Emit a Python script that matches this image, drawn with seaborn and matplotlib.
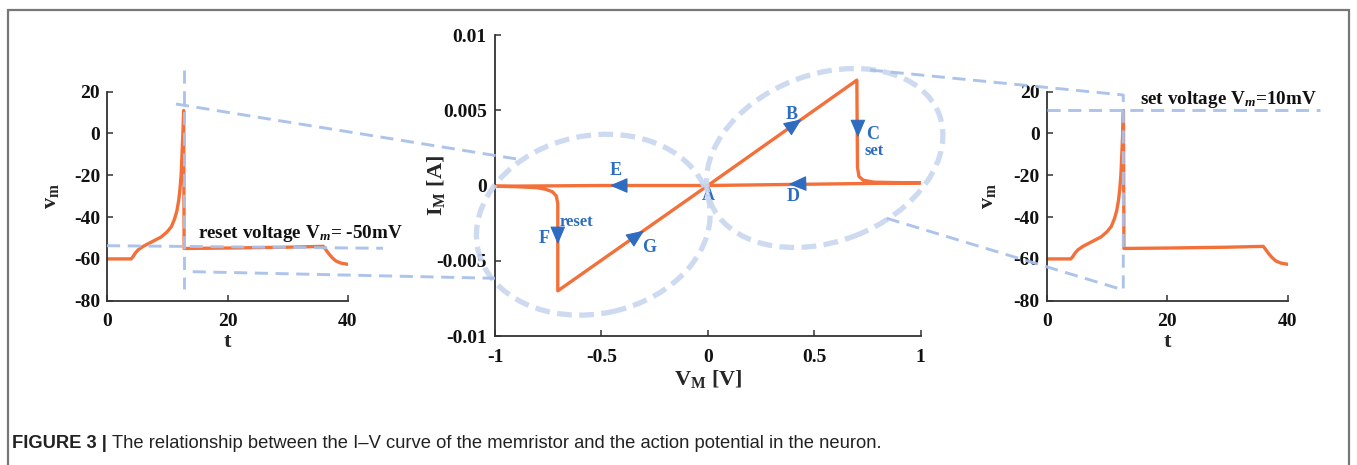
import matplotlib
matplotlib.use('Agg')
import matplotlib.pyplot as plt
import seaborn as sns
import numpy as np
import pandas as pd
from matplotlib.patches import Ellipse, Rectangle
from matplotlib.lines import Line2D
from matplotlib.ticker import FixedLocator, FixedFormatter

# ---------------- data ----------------
# neuron membrane trace (same trace used in both side panels)
trace_t = [0, 4.0, 4.3, 4.7, 5.2, 6.0, 7.0, 8.0, 9.0, 10.0, 10.7, 11.2, 11.6, 11.9,
           12.1, 12.3, 12.45, 12.6, 12.72, 12.8, 20, 30, 35.9, 36.3, 36.8, 37.4,
           38.0, 38.8, 40]
trace_v = [-60, -60, -59, -57.2, -55.6, -54, -52.5, -51, -49.5, -47, -44.5, -41,
           -37, -32, -27, -20, -10, 0, 11, -55, -54.8, -54.4, -54, -55.5, -57.5,
           -59.5, -61, -62, -62.6]
side_xticks = [0, 20, 40]
side_yticks = [-80, -60, -40, -20, 0, 20]

# memristor I-V loop (A -> B -> C -> D -> A -> E -> F -> G -> A)
iv_v = [0, 0.70, 0.703, 0.71, 0.73, 0.78, 0.90, 1.00, 0.50, 0.0, -0.50, -1.00,
        -0.90, -0.80, -0.76, -0.73, -0.712, -0.705, -0.705, 0.0]
iv_i = [0, 0.0070, 0.0012, 0.0006, 0.00035, 0.00022, 0.00019, 0.00018, 0.00009,
        0.0, 0.0, -0.00005, -0.00008, -0.00015, -0.00026, -0.00042, -0.0007,
        -0.0012, -0.0070, 0.0]
mid_xticks = [-1, -0.5, 0, 0.5, 1]
mid_xticklabels = ['-1', '-0.5', '0', '0.5', '1']
mid_yticks = [-0.01, -0.005, 0, 0.005, 0.01]
mid_yticklabels = ['-0.01', '-0.005', '0', '0.005', '0.01']

# direction arrows: (tail_v, tail_i, head_v, head_i)
arrows = {
    'B': (0.40, 0.0040, 0.44, 0.0044),
    'C': (0.705, 0.0042, 0.705, 0.0032),
    'D': (0.42, 0.00011, 0.38, 0.00009),
    'E': (-0.42, 0.0, -0.46, 0.0),
    'F': (-0.705, -0.0028, -0.705, -0.0039),
    'G': (-0.34, -0.0034, -0.30, -0.0030),
}
point_labels = ['B', 'C', 'set', 'D', 'E', 'A', 'reset', 'F', 'G']
point_label_v = [0.393, 0.772, 0.78, 0.40, -0.433, 0.0, -0.616, -0.77, -0.275]
point_label_i = [0.00474, 0.00341, 0.00226, -0.00073, 0.00098, -0.00066, -0.0024, -0.0035, -0.0041]

# ---------------- style ----------------
sns.set_style('ticks')
plt.rcParams['font.family'] = ['Liberation Serif', 'DejaVu Serif']
plt.rcParams['font.weight'] = 'bold'
plt.rcParams['axes.unicode_minus'] = False
plt.rcParams['mathtext.fontset'] = 'custom'
plt.rcParams['mathtext.rm'] = 'Liberation Serif:bold'
plt.rcParams['mathtext.bf'] = 'Liberation Serif:bold'
plt.rcParams['mathtext.it'] = 'Liberation Serif:bold:italic'

ORANGE = '#f4703a'
BLUE = '#2d6cc0'
DASH = '#a9c1e9'
ELL = '#c9d7ef'
AXC = '#333333'

W, H = 1357, 465
fig = plt.figure(figsize=(W / 100, H / 100), dpi=100)


def ax_at(x0, y_top, x1, y_bot):
    return fig.add_axes([x0 / W, 1 - y_bot / H, (x1 - x0) / W, (y_bot - y_top) / H])


def style_axes(ax):
    sns.despine(ax=ax)
    for s in ('left', 'bottom'):
        ax.spines[s].set_color(AXC)
        ax.spines[s].set_linewidth(1.3)
    ax.tick_params(direction='in', length=4, width=1.1, colors=AXC,
                   labelcolor='#111111', labelsize=14)
    for lab in ax.get_xticklabels() + ax.get_yticklabels():
        lab.set_fontweight('bold')


df_trace = pd.DataFrame({'t': trace_t, 'v': trace_v})
df_iv = pd.DataFrame({'V': iv_v, 'I': iv_i})

# ---------- side panels ----------
side_specs = [(107, 91.7, 348, 300.7), (1046.7, 91.7, 1288, 300.7)]
side_axes = []
for spec in side_specs:
    ax = ax_at(*spec)
    sns.lineplot(data=df_trace, x='t', y='v', sort=False, estimator=None,
                 color=ORANGE, lw=2.4, ax=ax)
    ax.set_xlim(0, 40)
    ax.set_ylim(-80, 20)
    ax.xaxis.set_major_locator(FixedLocator(side_xticks))
    ax.yaxis.set_major_locator(FixedLocator(side_yticks))
    ax.tick_params(axis='x', pad=9)
    ax.tick_params(axis='y', pad=5)
    ax.set_xlabel('t', fontsize=16, fontweight='bold')
    ax.set_ylabel(r'v$_{\mathbf{m}}$', fontsize=16, fontweight='bold')
    style_axes(ax)
    side_axes.append(ax)

side_axes[0].yaxis.set_label_coords(-0.19, 0.5)
side_axes[0].xaxis.set_label_coords(0.5, -0.15)
side_axes[1].yaxis.set_label_coords(-0.20, 0.5)
side_axes[1].xaxis.set_label_coords(0.5, -0.15)

side_axes[0].text(15.1, -47.8, r'reset voltage V$_{\mathit{m}}$= -50mV', fontsize=13.8,
                  fontweight='bold', ha='left', va='center', color='#111111')
side_axes[1].text(15.5, 16.5, r'set voltage V$_{\mathit{m}}$=10mV', fontsize=13.8,
                  fontweight='bold', ha='left', va='center', color='#111111')

# ---------- middle panel ----------
axm = ax_at(495, 35, 920.7, 336)
sns.lineplot(data=df_iv, x='V', y='I', sort=False, estimator=None,
             color=ORANGE, lw=2.4, ax=axm)
axm.set_xlim(-1, 1)
axm.set_ylim(-0.01, 0.01)
axm.xaxis.set_major_locator(FixedLocator(mid_xticks))
axm.xaxis.set_major_formatter(FixedFormatter(mid_xticklabels))
axm.yaxis.set_major_locator(FixedLocator(mid_yticks))
axm.yaxis.set_major_formatter(FixedFormatter(mid_yticklabels))
axm.tick_params(axis='x', pad=9)
axm.tick_params(axis='y', pad=6)
axm.set_xlabel(r'V$_{\mathbf{M}}$ [V]', fontsize=16, fontweight='bold')
axm.set_ylabel(r'I$_{\mathbf{M}}$ [A]', fontsize=16, fontweight='bold')
style_axes(axm)
axm.yaxis.set_label_coords(-0.112, 0.5)
axm.xaxis.set_label_coords(0.5, -0.105)

for name, (tv, ti, hv, hi) in arrows.items():
    axm.annotate('', xy=(hv, hi), xytext=(tv, ti),
                 arrowprops=dict(arrowstyle='-|>,head_length=0.75,head_width=0.32',
                                 color=BLUE, lw=0.8, shrinkA=0, shrinkB=0,
                                 mutation_scale=15), zorder=5)
for lab, v, i in zip(point_labels, point_label_v, point_label_i):
    axm.text(v, i, lab, color=BLUE, fontsize=13 if len(lab) == 1 else 12,
             fontweight='bold', ha='center', va='center', zorder=6)

# ---------- overlay decorations (pixel coordinates) ----------
tr = fig.dpi_scale_trans


def P(x, y):
    return x / 100, (H - y) / 100


def dline(pts, color=DASH, lw=2.1, dashes=(4.5, 2.6)):
    xs = [P(*p)[0] for p in pts]
    ys = [P(*p)[1] for p in pts]
    ln = Line2D(xs, ys, transform=tr, color=color, lw=lw, linestyle=(0, dashes),
                alpha=0.95, zorder=10, solid_capstyle='butt', dash_capstyle='butt')
    fig.add_artist(ln)


# ellipses around set / reset regions
for cx, cy, w, h, ang in [(824.7, 158, 245, 167, 21), (593.3, 224.7, 236, 178, 12)]:
    e = Ellipse(P(cx, cy), w / 100, h / 100, angle=ang, transform=tr, fill=False,
                edgecolor=ELL, lw=3.8, linestyle=(0, (2.8, 1.4)), alpha=0.92, zorder=9)
    fig.add_artist(e)

# left panel guides
dline([(184.3, 70), (184.3, 289.3)])
dline([(107, 245.7), (383, 248.3)])
dline([(176, 104), (523, 160)])
dline([(192.7, 271.7), (495, 278.3)])
# right panel guides
dline([(870, 70), (1123.3, 95), (1123.3, 290)])
dline([(886.7, 218.3), (1123.3, 290)])
dline([(1047, 110), (1320, 110)])

# frame
frame = Rectangle(P(7.5, 475), (1349 - 7.5) / 100, (475 - 9.5) / 100, transform=tr,
                  fill=False, edgecolor='#777777', lw=1.6, zorder=1)
fig.add_artist(frame)

# caption
t1 = fig.text(12 / W, 1 - 443 / H, 'FIGURE 3 |', fontsize=13.2, fontweight='bold',
              family=['Liberation Sans', 'DejaVu Sans'], ha='left', va='center',
              color='#222222')
fig.canvas.draw()
bb = t1.get_window_extent(renderer=fig.canvas.get_renderer())
fig.text((bb.x1 + 5) / W, 1 - 443 / H,
         'The relationship between the I\u2013V curve of the memristor and the action potential in the neuron.',
         fontsize=13.2, fontweight='normal', family=['Liberation Sans', 'DejaVu Sans'],
         ha='left', va='center', color='#222222')

fig.savefig('out.png', dpi=100)
